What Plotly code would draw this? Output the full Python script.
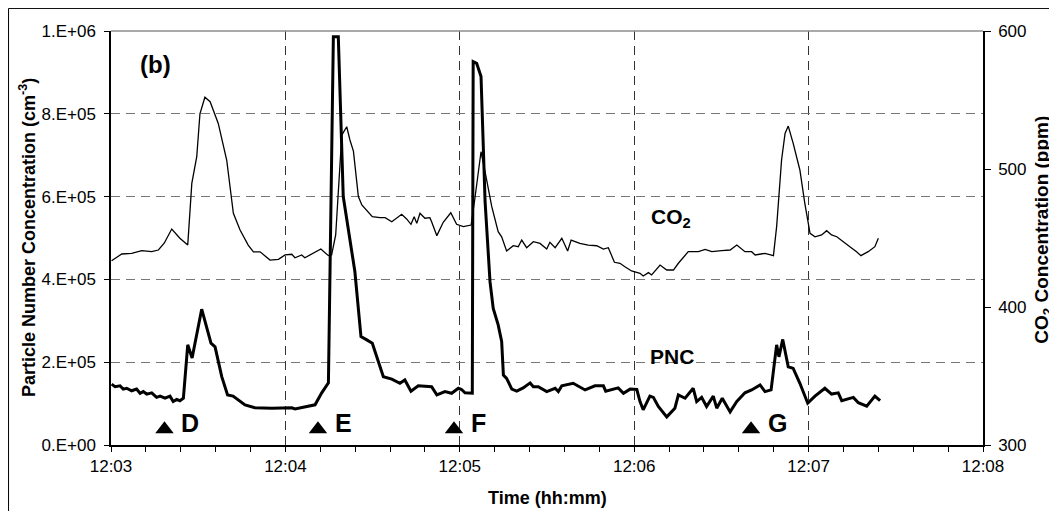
import pandas as pd
import plotly.graph_objects as go

# --- dados (tempo em segundos a partir de 12:03:00) ---
BASE = pd.Timestamp("2000-01-01 12:03:00")

pnc_t = [0.2, 1.4, 3.1, 4.2, 5.4, 7.1, 8.8, 10.0, 11.1, 12.3, 14.0, 15.7, 16.9, 18.6, 20.3,
         21.4, 22.6, 23.7, 24.9, 26.4, 27.9, 31.2, 34.4, 35.8, 38.1, 40.1, 42.0, 46.1, 49.5,
         55.3, 62.2, 63.3, 70.2, 72.5, 74.8, 76.5, 78.2, 79.9, 83.9, 86.0, 88.0, 89.9, 92.0,
         93.7, 96.6, 99.4, 101.1, 103.2, 105.7, 110.3, 112.1, 114.9, 117.2, 119.5, 120.6,
         121.8, 124.3, 124.6, 125.8, 127.3, 128.7, 130.4, 131.5, 133.2, 134.4, 135.0, 136.1,
         137.9, 139.6, 141.8, 144.2, 145.3, 147.0, 149.9, 152.8, 153.9, 155.1, 159.0, 163.1,
         166.5, 169.4, 170.2, 174.5, 176.3, 178.6, 180.9, 182.0, 183.1, 185.4, 186.6, 188.3,
         191.2, 194.0, 195.2, 197.5, 200.3, 201.5, 203.2, 204.9, 207.2, 208.4, 210.3, 213.0,
         215.3, 218.1, 220.4, 223.3, 225.0, 227.1, 229.0, 229.8, 231.1, 233.0, 234.7, 237.0,
         239.7, 242.2, 245.6, 247.9, 250.2, 251.4, 255.4, 257.1, 260.0, 262.8, 264.6]
pnc = [147e3, 141e3, 143e3, 135e3, 137e3, 131e3, 135e3, 125e3, 129e3, 123e3, 126e3, 115e3,
       118e3, 113e3, 118e3, 105e3, 110e3, 107e3, 113e3, 242e3, 210e3, 328e3, 246e3, 237e3,
       165e3, 121e3, 118e3, 97e3, 90e3, 89e3, 90e3, 87e3, 97e3, 126e3, 150e3, 986e3, 986e3,
       600e3, 419e3, 262e3, 254e3, 246e3, 201e3, 165e3, 159e3, 149e3, 157e3, 130e3, 143e3,
       141e3, 121e3, 129e3, 125e3, 137e3, 134e3, 126e3, 125e3, 926e3, 922e3, 890e3, 588e3,
       394e3, 330e3, 290e3, 250e3, 169e3, 161e3, 135e3, 130e3, 138e3, 150e3, 141e3, 141e3,
       129e3, 137e3, 129e3, 143e3, 149e3, 133e3, 143e3, 143e3, 130e3, 138e3, 125e3, 135e3,
       134e3, 105e3, 85e3, 118e3, 115e3, 93e3, 68e3, 89e3, 121e3, 113e3, 137e3, 105e3, 115e3,
       93e3, 118e3, 89e3, 113e3, 80e3, 105e3, 126e3, 133e3, 145e3, 129e3, 133e3, 242e3,
       213e3, 255e3, 189e3, 185e3, 149e3, 101e3, 118e3, 137e3, 123e3, 126e3, 107e3, 115e3,
       102e3, 94e3, 118e3, 107e3]

co2_t = [0.2, 3.7, 7.1, 10.6, 14.0, 16.3, 18.3, 20.9, 23.7, 26.4, 27.8, 29.5, 30.6, 32.3,
         34.1, 36.9, 39.8, 42.1, 44.4, 47.2, 49.0, 51.3, 54.7, 57.6, 59.9, 62.2, 63.3, 65.6,
         66.7, 70.2, 72.2, 74.8, 75.9, 77.3, 79.4, 81.1, 82.2, 83.4, 85.1, 86.3, 89.9, 92.5,
         94.3, 96.6, 100.0, 101.7, 103.2, 104.3, 105.2, 106.3, 108.0, 109.7, 110.3, 112.1,
         114.3, 116.9, 118.9, 121.2, 123.9, 125.2, 127.3, 128.7, 131.0, 133.2, 134.4, 136.1,
         138.4, 140.1, 141.3, 143.0, 145.3, 147.6, 149.9, 151.0, 152.8, 155.1, 157.1, 158.3,
         161.3, 164.2, 167.1, 169.4, 171.1, 173.2, 175.1, 176.8, 179.1, 182.0, 183.1, 184.9,
         186.0, 188.9, 191.2, 193.5, 195.2, 198.6, 202.1, 204.4, 206.7, 210.1, 213.0, 215.3,
         218.1, 220.4, 221.6, 225.0, 227.9, 229.0, 230.7, 231.9, 233.0, 234.7, 237.0, 238.7,
         240.5, 242.2, 244.5, 246.2, 247.9, 249.7, 251.4, 254.2, 256.5, 258.0, 260.5, 262.8,
         264.0]
co2 = [433.5, 438.4, 438.9, 440.8, 440.1, 441.3, 446.2, 456.5, 449.8, 444.9, 489.6, 508.9,
       540.0, 552.0, 548.8, 533.0, 506.5, 467.9, 455.8, 444.9, 440.0, 440.0, 434.0, 434.5,
       437.7, 438.2, 435.7, 437.7, 435.7, 440.0, 442.0, 437.2, 437.7, 452.2, 524.6, 530.6,
       521.0, 513.0, 480.0, 473.9, 465.4, 464.7, 464.7, 461.8, 467.2, 463.8, 459.9, 465.4,
       460.6, 467.9, 464.3, 464.7, 461.8, 451.7, 461.4, 468.3, 459.9, 458.2, 459.4, 478.8,
       512.5, 498.0, 472.7, 454.6, 450.9, 440.6, 444.4, 443.7, 448.5, 443.0, 447.3, 446.1,
       442.0, 446.9, 443.0, 449.8, 440.6, 448.5, 446.1, 444.9, 444.4, 442.0, 443.0, 432.4,
       431.7, 429.2, 426.1, 424.4, 422.5, 424.9, 423.2, 430.4, 426.8, 426.8, 431.7, 440.1,
       440.1, 441.8, 440.1, 440.8, 441.3, 444.9, 440.1, 440.1, 437.7, 438.9, 437.2, 458.2,
       506.5, 525.8, 531.1, 518.6, 499.3, 475.1, 453.4, 450.9, 452.2, 455.3, 452.2, 450.9,
       448.0, 443.7, 440.1, 437.2, 440.1, 443.7, 449.8]

# eventos marcados com triângulos
eventos_t = [18.4, 71.2, 118.0, 220.2]
eventos_nome = ["D", "E", "F", "G"]

y_ticks = [0, 2e5, 4e5, 6e5, 8e5, 1e6]
y_ticktext = ["0.E+00", "2.E+05", "4.E+05", "6.E+05", "8.E+05", "1.E+06"]
y2_ticks = [300, 400, 500, 600]


def para_tempo(segs):
    return [BASE + pd.Timedelta(seconds=s) for s in segs]


FONTE = "Liberation Sans, Arial, sans-serif"


def rotulo(texto, x, y, tamanho, angulo=0):
    # anotação em coordenadas do papel, sempre centrada no ponto dado
    fig.add_annotation(x=x, y=y, xref="paper", yref="paper", text=texto, textangle=angulo,
                       showarrow=False, xanchor="center", yanchor="middle",
                       font=dict(size=tamanho, color="black", family=FONTE))


fig = go.Figure()
fig.add_trace(go.Scatter(x=para_tempo(co2_t), y=co2, mode="lines", yaxis="y2",
                         line=dict(color="black", width=1.3), showlegend=False))
fig.add_trace(go.Scatter(x=para_tempo(pnc_t), y=pnc, mode="lines",
                         line=dict(color="black", width=3), showlegend=False))
fig.add_trace(go.Scatter(x=para_tempo(eventos_t), y=[38000] * len(eventos_t), mode="markers",
                         marker=dict(symbol="triangle-up", size=16, color="black"),
                         showlegend=False))

for t, nome in zip(eventos_t, eventos_nome):
    fig.add_annotation(x=BASE + pd.Timedelta(seconds=t), y=52000, xref="x", yref="y",
                       text=f"<b>{nome}</b>", showarrow=False, xanchor="left", yanchor="middle",
                       xshift=15, font=dict(size=25, color="black", family=FONTE))

# rótulos internos
rotulo("<b>(b)</b>", 0.0505, 0.92, 24)
rotulo("<b>CO<sub>2</sub></b>", 0.642, 0.548, 21)
rotulo("<b>PNC</b>", 0.643, 0.213, 21)

# títulos dos eixos
rotulo("<b>Particle Number Concentration (cm<sup>-3</sup>)</b>", -0.0963, 0.5, 18, -90)
rotulo("<b>CO<sub>2</sub> Concentration (ppm)</b>", 1.0688, 0.52, 19, -90)
rotulo("<b>Time (hh:mm)</b>", 0.5, -0.128, 18)

# linha superior cinza da área do gráfico e moldura externa
fig.add_shape(type="line", xref="paper", yref="paper", x0=0, x1=1, y0=1, y1=1,
              line=dict(color="#8c8c8c", width=1.5))
fig.add_shape(type="rect", xref="paper", yref="paper", x0=-0.1175, x1=1.0795, y0=-0.25, y1=1.0545,
              line=dict(color="black", width=1))

# a página tem 8 px de margem no corpo: a figura é reduzida para caber na janela
fig.update_layout(
    width=1049, height=503,
    margin=dict(l=103, r=74, t=23, b=66),
    paper_bgcolor="white", plot_bgcolor="white",
    font=dict(family=FONTE, size=17, color="black"),
    xaxis=dict(
        type="date",
        range=[BASE, BASE + pd.Timedelta(minutes=5)],
        tick0=BASE, dtick=60000, tickformat="%H:%M",
        ticks="outside", ticklen=5, tickcolor="black",
        showline=True, linecolor="black", linewidth=1.5,
        showgrid=True, gridcolor="#333333", gridwidth=1, griddash="9px,6px",
        zeroline=False,
        minor=dict(dtick=12000, tick0=BASE, ticks="outside", ticklen=5,
                   tickcolor="black", showgrid=False),
    ),
    yaxis=dict(
        range=[0, 1e6], tickvals=y_ticks, ticktext=y_ticktext,
        ticks="outside", ticklen=5, tickcolor="black", ticklabelstandoff=5,
        showline=True, linecolor="black", linewidth=1.5,
        showgrid=True, gridcolor="#777777", gridwidth=1, griddash="9px,6px",
        zeroline=False,
    ),
    yaxis2=dict(
        range=[300, 600], tickvals=y2_ticks, overlaying="y", side="right",
        ticks="outside", ticklen=6, tickcolor="black", ticklabelstandoff=4,
        showline=True, linecolor="black", linewidth=1.5,
        showgrid=False, zeroline=False,
    ),
)

fig.write_html("out.html")
